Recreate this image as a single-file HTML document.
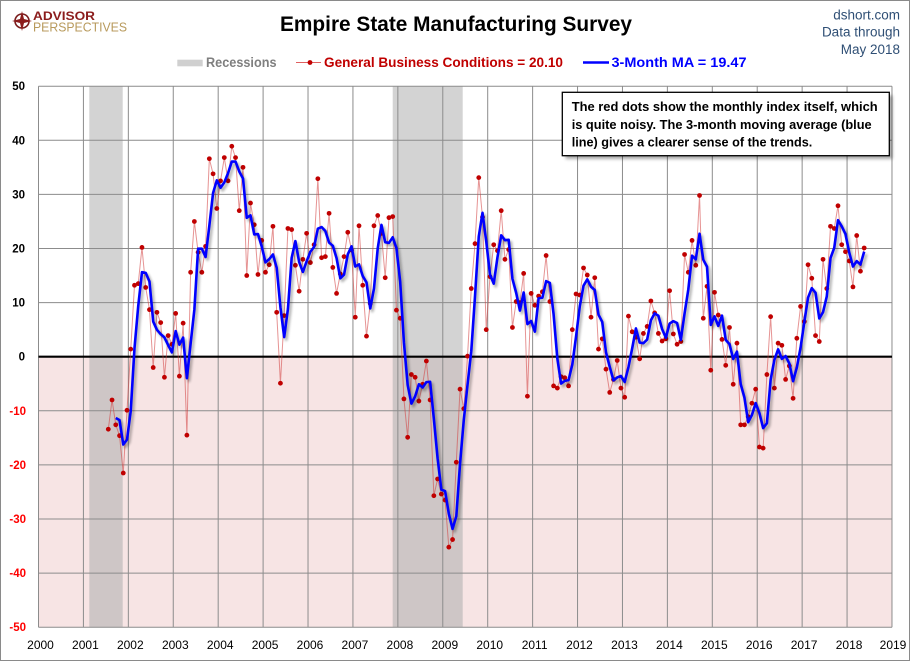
<!DOCTYPE html>
<html>
<head>
<meta charset="utf-8">
<style>
html,body{margin:0;padding:0;background:#fff;}
svg{display:block;}
text{font-family:"Liberation Sans",sans-serif;}
</style>
</head>
<body>
<svg width="910" height="661" viewBox="0 0 910 661" xmlns="http://www.w3.org/2000/svg">
<defs>
<filter id="blur" x="-5%" y="-5%" width="110%" height="110%"><feGaussianBlur stdDeviation="1.3"/></filter>
<filter id="boxsh" x="-10%" y="-20%" width="120%" height="150%"><feGaussianBlur stdDeviation="1.5"/></filter>
</defs>
<rect x="0" y="0" width="910" height="661" fill="#fff"/>
<rect x="0.5" y="0.5" width="909" height="660" fill="none" stroke="#8a8a8a" stroke-width="1"/>

<!-- Logo -->
<circle cx="22" cy="21" r="7" fill="none" stroke="#7a1c1c" stroke-width="1.6"/>
<polygon points="22,11 24,19 32,21 24,23 22,31 20,23 12,21 20,19" fill="#8b1c1c"/>
<text x="33" y="20" font-size="12" font-weight="bold" fill="#8b1c1c" textLength="62" lengthAdjust="spacingAndGlyphs">ADVISOR</text>
<text x="33" y="31.5" font-size="13" fill="#b89a5c" textLength="94" lengthAdjust="spacingAndGlyphs">PERSPECTIVES</text>

<!-- Title -->
<text x="280" y="31" font-size="21" font-weight="bold" fill="#000" textLength="352" lengthAdjust="spacingAndGlyphs">Empire State Manufacturing Survey</text>

<!-- Top right -->
<text x="900" y="19.3" font-size="13.5" fill="#2f4f75" text-anchor="end">dshort.com</text>
<text x="900" y="36.7" font-size="13.5" fill="#2f4f75" text-anchor="end">Data through</text>
<text x="900" y="54" font-size="13.5" fill="#2f4f75" text-anchor="end">May 2018</text>

<!-- Legend -->
<rect x="177.3" y="59.7" width="25.4" height="6.6" fill="#d0d0d0"/>
<text x="206" y="67" font-size="13.5" font-weight="bold" fill="#7f7f7f" textLength="70.5" lengthAdjust="spacingAndGlyphs">Recessions</text>
<line x1="296" y1="62.5" x2="321" y2="62.5" stroke="#e06060" stroke-width="1"/>
<circle cx="310" cy="62.5" r="2.4" fill="#c00000"/>
<text x="324" y="67" font-size="13.5" font-weight="bold" fill="#c00000" textLength="239" lengthAdjust="spacingAndGlyphs">General Business Conditions = 20.10</text>
<line x1="583" y1="62.5" x2="609" y2="62.5" stroke="#0000ff" stroke-width="2.5"/>
<text x="611.5" y="67" font-size="13.5" font-weight="bold" fill="#0000ff" textLength="135" lengthAdjust="spacingAndGlyphs">3-Month MA = 19.47</text>

<!-- Plot backgrounds -->
<rect x="38.5" y="356.7" width="853.5" height="270.5" fill="#f7e4e4"/>
<rect x="89.3" y="86.2" width="33.4" height="270.5" fill="#d3d3d3"/>
<rect x="89.3" y="356.7" width="33.4" height="270.5" fill="#cec6c6"/>
<rect x="392.7" y="86.2" width="70" height="270.5" fill="#d3d3d3"/>
<rect x="392.7" y="356.7" width="70" height="270.5" fill="#cec6c6"/>

<!-- Gridlines -->
<g stroke="#8c8c8c" stroke-width="1" fill="none">
<line x1="38.5" y1="86.2" x2="892" y2="86.2"/>
<line x1="38.5" y1="140.3" x2="892" y2="140.3"/>
<line x1="38.5" y1="194.4" x2="892" y2="194.4"/>
<line x1="38.5" y1="248.5" x2="892" y2="248.5"/>
<line x1="38.5" y1="302.6" x2="892" y2="302.6"/>
<line x1="38.5" y1="410.8" x2="892" y2="410.8"/>
<line x1="38.5" y1="464.9" x2="892" y2="464.9"/>
<line x1="38.5" y1="519" x2="892" y2="519"/>
<line x1="38.5" y1="573.1" x2="892" y2="573.1"/>
<line x1="38.5" y1="627.2" x2="892" y2="627.2"/>
<line x1="38.5" y1="86.2" x2="38.5" y2="627.2"/>
<line x1="83.42" y1="86.2" x2="83.42" y2="627.2"/>
<line x1="128.34" y1="86.2" x2="128.34" y2="627.2"/>
<line x1="173.26" y1="86.2" x2="173.26" y2="627.2"/>
<line x1="218.18" y1="86.2" x2="218.18" y2="627.2"/>
<line x1="263.1" y1="86.2" x2="263.1" y2="627.2"/>
<line x1="308.02" y1="86.2" x2="308.02" y2="627.2"/>
<line x1="352.94" y1="86.2" x2="352.94" y2="627.2"/>
<line x1="397.86" y1="86.2" x2="397.86" y2="627.2"/>
<line x1="442.78" y1="86.2" x2="442.78" y2="627.2"/>
<line x1="487.7" y1="86.2" x2="487.7" y2="627.2"/>
<line x1="532.62" y1="86.2" x2="532.62" y2="627.2"/>
<line x1="577.54" y1="86.2" x2="577.54" y2="627.2"/>
<line x1="622.46" y1="86.2" x2="622.46" y2="627.2"/>
<line x1="667.38" y1="86.2" x2="667.38" y2="627.2"/>
<line x1="712.3" y1="86.2" x2="712.3" y2="627.2"/>
<line x1="757.22" y1="86.2" x2="757.22" y2="627.2"/>
<line x1="802.14" y1="86.2" x2="802.14" y2="627.2"/>
<line x1="847.06" y1="86.2" x2="847.06" y2="627.2"/>
<line x1="891.98" y1="86.2" x2="891.98" y2="627.2"/>
</g>
<line x1="38.5" y1="356.7" x2="892" y2="356.7" stroke="#000" stroke-width="2.2"/>

<!-- Y labels -->
<g font-size="11.5" font-weight="bold" text-anchor="end">
<text x="25" y="90.2" fill="#000">50</text>
<text x="25" y="144.3" fill="#000">40</text>
<text x="25" y="198.4" fill="#000">30</text>
<text x="25" y="252.5" fill="#000">20</text>
<text x="25" y="306.6" fill="#000">10</text>
<text x="25" y="360.7" fill="#000">0</text>
<text x="26" y="414.8" fill="#ff0000">-10</text>
<text x="26" y="468.9" fill="#ff0000">-20</text>
<text x="26" y="523" fill="#ff0000">-30</text>
<text x="26" y="577.1" fill="#ff0000">-40</text>
<text x="26" y="631.2" fill="#ff0000">-50</text>
</g>

<!-- X labels -->
<g font-size="12" text-anchor="middle" fill="#000">
<text x="40.5" y="649">2000</text>
<text x="85.4" y="649">2001</text>
<text x="130.3" y="649">2002</text>
<text x="175.3" y="649">2003</text>
<text x="220.2" y="649">2004</text>
<text x="265.1" y="649">2005</text>
<text x="310" y="649">2006</text>
<text x="354.9" y="649">2007</text>
<text x="399.9" y="649">2008</text>
<text x="444.8" y="649">2009</text>
<text x="489.7" y="649">2010</text>
<text x="534.6" y="649">2011</text>
<text x="579.5" y="649">2012</text>
<text x="624.5" y="649">2013</text>
<text x="669.4" y="649">2014</text>
<text x="714.3" y="649">2015</text>
<text x="759.2" y="649">2016</text>
<text x="804.1" y="649">2017</text>
<text x="849.1" y="649">2018</text>
<text x="893" y="649">2019</text>
</g>

<!-- Red series line -->
<g transform="translate(108.3,356.7) scale(3.742,-5.41)">
<polyline fill="none" stroke="#d23c3c" stroke-opacity="0.55" stroke-width="1" vector-effect="non-scaling-stroke" stroke-linejoin="round" points="0,-13.4 1,-8 2,-12.6 3,-14.6 4,-21.5 5,-9.9 6,1.4 7,13.2 8,13.5 9,20.2 10,12.8 11,8.7 12,-2 13,8.2 14,6.3 15,-3.8 16,3.9 17,2.3 18,8 19,-3.6 20,6.2 21,-14.5 22,15.6 23,25 24,19.3 25,15.6 26,20.4 27,36.6 28,33.8 29,27.4 30,32.5 31,36.8 32,32.5 33,38.9 34,36.8 35,27 36,35 37,15 38,28.4 39,24.4 40,15.2 41,21.5 42,15.6 43,17 44,24.1 45,8.2 46,-4.9 47,7.6 48,23.7 49,23.5 50,16.9 51,12.1 52,18 53,22.8 54,17.4 55,20.7 56,32.9 57,18.3 58,18.5 59,26.5 60,16.5 61,11.7 62,15.3 63,18.5 64,23 65,19.7 66,7.3 67,24.2 68,13.2 69,3.8 70,9.8 71,24.2 72,26.1 73,22.8 74,14.6 75,25.7 76,25.9 77,8.6 78,7.1 79,-7.8 80,-14.9 81,-3.3 82,-3.8 83,-8.2 84,-5.1 85,-0.8 86,-8 87,-25.7 88,-22.6 89,-25.4 90,-26.5 91,-35.2 92,-33.8 93,-19.5 94,-6 95,-9.6 96,0.1 97,12.6 98,20.9 99,33.1 100,25.8 101,5 102,14.8 103,20.7 104,19.6 105,27 106,18 107,19.8 108,5.4 109,10.2 110,10 111,15.4 112,-7.3 113,11.7 114,9.5 115,11.2 116,12 117,18.7 118,10.2 119,-5.4 120,-5.8 121,-3.7 122,-3.9 123,-5.4 124,5 125,11.6 126,11.4 127,16.4 128,15.1 129,7.3 130,14.6 131,1.4 132,3.3 133,-2.3 134,-6.6 135,-4.2 136,-0.7 137,-5.8 138,-7.5 139,7.5 140,4.6 141,3.6 142,-0.4 143,4.3 144,5.6 145,10.3 146,8.1 147,4.3 148,2.9 149,3.3 150,12.2 151,4.2 152,2.3 153,2.8 154,18.9 155,15.6 156,21.5 157,16.9 158,29.8 159,7.1 160,13 161,-2.5 162,11.9 163,7.7 164,3.2 165,-1.6 166,5.4 167,-5.1 168,2.5 169,-12.6 170,-12.6 171,-11.1 172,-8.6 173,-6 174,-16.7 175,-16.9 176,-3.3 177,7.4 178,-5.8 179,2.5 180,2.1 181,-4.2 182,-1.7 183,-7.7 184,3.4 185,9.3 186,6.5 187,17 188,14.5 189,3.9 190,2.8 191,18 192,12.6 193,24.1 194,23.7 195,27.9 196,20.7 197,19.4 198,17.7 199,12.9 200,22.4 201,15.8 202,20.1"/>
</g>

<!-- Red dots -->
<g transform="translate(108.3,356.7) scale(3.742,-5.41)" fill="#c00000">
<ellipse cx="0" cy="-13.4" rx=".64" ry=".44"/><ellipse cx="1" cy="-8" rx=".64" ry=".44"/><ellipse cx="2" cy="-12.6" rx=".64" ry=".44"/><ellipse cx="3" cy="-14.6" rx=".64" ry=".44"/><ellipse cx="4" cy="-21.5" rx=".64" ry=".44"/><ellipse cx="5" cy="-9.9" rx=".64" ry=".44"/><ellipse cx="6" cy="1.4" rx=".64" ry=".44"/><ellipse cx="7" cy="13.2" rx=".64" ry=".44"/><ellipse cx="8" cy="13.5" rx=".64" ry=".44"/><ellipse cx="9" cy="20.2" rx=".64" ry=".44"/>
<ellipse cx="10" cy="12.8" rx=".64" ry=".44"/><ellipse cx="11" cy="8.7" rx=".64" ry=".44"/><ellipse cx="12" cy="-2" rx=".64" ry=".44"/><ellipse cx="13" cy="8.2" rx=".64" ry=".44"/><ellipse cx="14" cy="6.3" rx=".64" ry=".44"/><ellipse cx="15" cy="-3.8" rx=".64" ry=".44"/><ellipse cx="16" cy="3.9" rx=".64" ry=".44"/><ellipse cx="17" cy="2.3" rx=".64" ry=".44"/><ellipse cx="18" cy="8" rx=".64" ry=".44"/><ellipse cx="19" cy="-3.6" rx=".64" ry=".44"/>
<ellipse cx="20" cy="6.2" rx=".64" ry=".44"/><ellipse cx="21" cy="-14.5" rx=".64" ry=".44"/><ellipse cx="22" cy="15.6" rx=".64" ry=".44"/><ellipse cx="23" cy="25" rx=".64" ry=".44"/><ellipse cx="24" cy="19.3" rx=".64" ry=".44"/><ellipse cx="25" cy="15.6" rx=".64" ry=".44"/><ellipse cx="26" cy="20.4" rx=".64" ry=".44"/><ellipse cx="27" cy="36.6" rx=".64" ry=".44"/><ellipse cx="28" cy="33.8" rx=".64" ry=".44"/><ellipse cx="29" cy="27.4" rx=".64" ry=".44"/>
<ellipse cx="30" cy="32.5" rx=".64" ry=".44"/><ellipse cx="31" cy="36.8" rx=".64" ry=".44"/><ellipse cx="32" cy="32.5" rx=".64" ry=".44"/><ellipse cx="33" cy="38.9" rx=".64" ry=".44"/><ellipse cx="34" cy="36.8" rx=".64" ry=".44"/><ellipse cx="35" cy="27" rx=".64" ry=".44"/><ellipse cx="36" cy="35" rx=".64" ry=".44"/><ellipse cx="37" cy="15" rx=".64" ry=".44"/><ellipse cx="38" cy="28.4" rx=".64" ry=".44"/><ellipse cx="39" cy="24.4" rx=".64" ry=".44"/>
<ellipse cx="40" cy="15.2" rx=".64" ry=".44"/><ellipse cx="41" cy="21.5" rx=".64" ry=".44"/><ellipse cx="42" cy="15.6" rx=".64" ry=".44"/><ellipse cx="43" cy="17" rx=".64" ry=".44"/><ellipse cx="44" cy="24.1" rx=".64" ry=".44"/><ellipse cx="45" cy="8.2" rx=".64" ry=".44"/><ellipse cx="46" cy="-4.9" rx=".64" ry=".44"/><ellipse cx="47" cy="7.6" rx=".64" ry=".44"/><ellipse cx="48" cy="23.7" rx=".64" ry=".44"/><ellipse cx="49" cy="23.5" rx=".64" ry=".44"/>
<ellipse cx="50" cy="16.9" rx=".64" ry=".44"/><ellipse cx="51" cy="12.1" rx=".64" ry=".44"/><ellipse cx="52" cy="18" rx=".64" ry=".44"/><ellipse cx="53" cy="22.8" rx=".64" ry=".44"/><ellipse cx="54" cy="17.4" rx=".64" ry=".44"/><ellipse cx="55" cy="20.7" rx=".64" ry=".44"/><ellipse cx="56" cy="32.9" rx=".64" ry=".44"/><ellipse cx="57" cy="18.3" rx=".64" ry=".44"/><ellipse cx="58" cy="18.5" rx=".64" ry=".44"/><ellipse cx="59" cy="26.5" rx=".64" ry=".44"/>
<ellipse cx="60" cy="16.5" rx=".64" ry=".44"/><ellipse cx="61" cy="11.7" rx=".64" ry=".44"/><ellipse cx="62" cy="15.3" rx=".64" ry=".44"/><ellipse cx="63" cy="18.5" rx=".64" ry=".44"/><ellipse cx="64" cy="23" rx=".64" ry=".44"/><ellipse cx="65" cy="19.7" rx=".64" ry=".44"/><ellipse cx="66" cy="7.3" rx=".64" ry=".44"/><ellipse cx="67" cy="24.2" rx=".64" ry=".44"/><ellipse cx="68" cy="13.2" rx=".64" ry=".44"/><ellipse cx="69" cy="3.8" rx=".64" ry=".44"/>
<ellipse cx="70" cy="9.8" rx=".64" ry=".44"/><ellipse cx="71" cy="24.2" rx=".64" ry=".44"/><ellipse cx="72" cy="26.1" rx=".64" ry=".44"/><ellipse cx="73" cy="22.8" rx=".64" ry=".44"/><ellipse cx="74" cy="14.6" rx=".64" ry=".44"/><ellipse cx="75" cy="25.7" rx=".64" ry=".44"/><ellipse cx="76" cy="25.9" rx=".64" ry=".44"/><ellipse cx="77" cy="8.6" rx=".64" ry=".44"/><ellipse cx="78" cy="7.1" rx=".64" ry=".44"/><ellipse cx="79" cy="-7.8" rx=".64" ry=".44"/>
<ellipse cx="80" cy="-14.9" rx=".64" ry=".44"/><ellipse cx="81" cy="-3.3" rx=".64" ry=".44"/><ellipse cx="82" cy="-3.8" rx=".64" ry=".44"/><ellipse cx="83" cy="-8.2" rx=".64" ry=".44"/><ellipse cx="84" cy="-5.1" rx=".64" ry=".44"/><ellipse cx="85" cy="-0.8" rx=".64" ry=".44"/><ellipse cx="86" cy="-8" rx=".64" ry=".44"/><ellipse cx="87" cy="-25.7" rx=".64" ry=".44"/><ellipse cx="88" cy="-22.6" rx=".64" ry=".44"/><ellipse cx="89" cy="-25.4" rx=".64" ry=".44"/>
<ellipse cx="90" cy="-26.5" rx=".64" ry=".44"/><ellipse cx="91" cy="-35.2" rx=".64" ry=".44"/><ellipse cx="92" cy="-33.8" rx=".64" ry=".44"/><ellipse cx="93" cy="-19.5" rx=".64" ry=".44"/><ellipse cx="94" cy="-6" rx=".64" ry=".44"/><ellipse cx="95" cy="-9.6" rx=".64" ry=".44"/><ellipse cx="96" cy="0.1" rx=".64" ry=".44"/><ellipse cx="97" cy="12.6" rx=".64" ry=".44"/><ellipse cx="98" cy="20.9" rx=".64" ry=".44"/><ellipse cx="99" cy="33.1" rx=".64" ry=".44"/>
<ellipse cx="100" cy="25.8" rx=".64" ry=".44"/><ellipse cx="101" cy="5" rx=".64" ry=".44"/><ellipse cx="102" cy="14.8" rx=".64" ry=".44"/><ellipse cx="103" cy="20.7" rx=".64" ry=".44"/><ellipse cx="104" cy="19.6" rx=".64" ry=".44"/><ellipse cx="105" cy="27" rx=".64" ry=".44"/><ellipse cx="106" cy="18" rx=".64" ry=".44"/><ellipse cx="107" cy="19.8" rx=".64" ry=".44"/><ellipse cx="108" cy="5.4" rx=".64" ry=".44"/><ellipse cx="109" cy="10.2" rx=".64" ry=".44"/>
<ellipse cx="110" cy="10" rx=".64" ry=".44"/><ellipse cx="111" cy="15.4" rx=".64" ry=".44"/><ellipse cx="112" cy="-7.3" rx=".64" ry=".44"/><ellipse cx="113" cy="11.7" rx=".64" ry=".44"/><ellipse cx="114" cy="9.5" rx=".64" ry=".44"/><ellipse cx="115" cy="11.2" rx=".64" ry=".44"/><ellipse cx="116" cy="12" rx=".64" ry=".44"/><ellipse cx="117" cy="18.7" rx=".64" ry=".44"/><ellipse cx="118" cy="10.2" rx=".64" ry=".44"/><ellipse cx="119" cy="-5.4" rx=".64" ry=".44"/>
<ellipse cx="120" cy="-5.8" rx=".64" ry=".44"/><ellipse cx="121" cy="-3.7" rx=".64" ry=".44"/><ellipse cx="122" cy="-3.9" rx=".64" ry=".44"/><ellipse cx="123" cy="-5.4" rx=".64" ry=".44"/><ellipse cx="124" cy="5" rx=".64" ry=".44"/><ellipse cx="125" cy="11.6" rx=".64" ry=".44"/><ellipse cx="126" cy="11.4" rx=".64" ry=".44"/><ellipse cx="127" cy="16.4" rx=".64" ry=".44"/><ellipse cx="128" cy="15.1" rx=".64" ry=".44"/><ellipse cx="129" cy="7.3" rx=".64" ry=".44"/>
<ellipse cx="130" cy="14.6" rx=".64" ry=".44"/><ellipse cx="131" cy="1.4" rx=".64" ry=".44"/><ellipse cx="132" cy="3.3" rx=".64" ry=".44"/><ellipse cx="133" cy="-2.3" rx=".64" ry=".44"/><ellipse cx="134" cy="-6.6" rx=".64" ry=".44"/><ellipse cx="135" cy="-4.2" rx=".64" ry=".44"/><ellipse cx="136" cy="-0.7" rx=".64" ry=".44"/><ellipse cx="137" cy="-5.8" rx=".64" ry=".44"/><ellipse cx="138" cy="-7.5" rx=".64" ry=".44"/><ellipse cx="139" cy="7.5" rx=".64" ry=".44"/>
<ellipse cx="140" cy="4.6" rx=".64" ry=".44"/><ellipse cx="141" cy="3.6" rx=".64" ry=".44"/><ellipse cx="142" cy="-0.4" rx=".64" ry=".44"/><ellipse cx="143" cy="4.3" rx=".64" ry=".44"/><ellipse cx="144" cy="5.6" rx=".64" ry=".44"/><ellipse cx="145" cy="10.3" rx=".64" ry=".44"/><ellipse cx="146" cy="8.1" rx=".64" ry=".44"/><ellipse cx="147" cy="4.3" rx=".64" ry=".44"/><ellipse cx="148" cy="2.9" rx=".64" ry=".44"/><ellipse cx="149" cy="3.3" rx=".64" ry=".44"/>
<ellipse cx="150" cy="12.2" rx=".64" ry=".44"/><ellipse cx="151" cy="4.2" rx=".64" ry=".44"/><ellipse cx="152" cy="2.3" rx=".64" ry=".44"/><ellipse cx="153" cy="2.8" rx=".64" ry=".44"/><ellipse cx="154" cy="18.9" rx=".64" ry=".44"/><ellipse cx="155" cy="15.6" rx=".64" ry=".44"/><ellipse cx="156" cy="21.5" rx=".64" ry=".44"/><ellipse cx="157" cy="16.9" rx=".64" ry=".44"/><ellipse cx="158" cy="29.8" rx=".64" ry=".44"/><ellipse cx="159" cy="7.1" rx=".64" ry=".44"/>
<ellipse cx="160" cy="13" rx=".64" ry=".44"/><ellipse cx="161" cy="-2.5" rx=".64" ry=".44"/><ellipse cx="162" cy="11.9" rx=".64" ry=".44"/><ellipse cx="163" cy="7.7" rx=".64" ry=".44"/><ellipse cx="164" cy="3.2" rx=".64" ry=".44"/><ellipse cx="165" cy="-1.6" rx=".64" ry=".44"/><ellipse cx="166" cy="5.4" rx=".64" ry=".44"/><ellipse cx="167" cy="-5.1" rx=".64" ry=".44"/><ellipse cx="168" cy="2.5" rx=".64" ry=".44"/><ellipse cx="169" cy="-12.6" rx=".64" ry=".44"/>
<ellipse cx="170" cy="-12.6" rx=".64" ry=".44"/><ellipse cx="171" cy="-11.1" rx=".64" ry=".44"/><ellipse cx="172" cy="-8.6" rx=".64" ry=".44"/><ellipse cx="173" cy="-6" rx=".64" ry=".44"/><ellipse cx="174" cy="-16.7" rx=".64" ry=".44"/><ellipse cx="175" cy="-16.9" rx=".64" ry=".44"/><ellipse cx="176" cy="-3.3" rx=".64" ry=".44"/><ellipse cx="177" cy="7.4" rx=".64" ry=".44"/><ellipse cx="178" cy="-5.8" rx=".64" ry=".44"/><ellipse cx="179" cy="2.5" rx=".64" ry=".44"/>
<ellipse cx="180" cy="2.1" rx=".64" ry=".44"/><ellipse cx="181" cy="-4.2" rx=".64" ry=".44"/><ellipse cx="182" cy="-1.7" rx=".64" ry=".44"/><ellipse cx="183" cy="-7.7" rx=".64" ry=".44"/><ellipse cx="184" cy="3.4" rx=".64" ry=".44"/><ellipse cx="185" cy="9.3" rx=".64" ry=".44"/><ellipse cx="186" cy="6.5" rx=".64" ry=".44"/><ellipse cx="187" cy="17" rx=".64" ry=".44"/><ellipse cx="188" cy="14.5" rx=".64" ry=".44"/><ellipse cx="189" cy="3.9" rx=".64" ry=".44"/>
<ellipse cx="190" cy="2.8" rx=".64" ry=".44"/><ellipse cx="191" cy="18" rx=".64" ry=".44"/><ellipse cx="192" cy="12.6" rx=".64" ry=".44"/><ellipse cx="193" cy="24.1" rx=".64" ry=".44"/><ellipse cx="194" cy="23.7" rx=".64" ry=".44"/><ellipse cx="195" cy="27.9" rx=".64" ry=".44"/><ellipse cx="196" cy="20.7" rx=".64" ry=".44"/><ellipse cx="197" cy="19.4" rx=".64" ry=".44"/><ellipse cx="198" cy="17.7" rx=".64" ry=".44"/><ellipse cx="199" cy="12.9" rx=".64" ry=".44"/>
<ellipse cx="200" cy="22.4" rx=".64" ry=".44"/><ellipse cx="201" cy="15.8" rx=".64" ry=".44"/><ellipse cx="202" cy="20.1" rx=".64" ry=".44"/>
</g>

<!-- Blue MA shadow -->
<g transform="translate(2,2.5)" filter="url(#blur)" opacity="0.3">
<g transform="translate(108.3,356.7) scale(3.742,-5.41)">
<polyline fill="none" stroke="#000" stroke-width="3" vector-effect="non-scaling-stroke" stroke-linejoin="round" points="2,-11.33 3,-11.73 4,-16.23 5,-15.33 6,-10 7,1.57 8,9.37 9,15.63 10,15.5 11,13.9 12,6.5 13,4.97 14,4.17 15,3.57 16,2.13 17,0.8 18,4.73 19,2.23 20,3.53 21,-3.97 22,2.43 23,8.7 24,19.97 25,19.97 26,18.43 27,24.2 28,30.27 29,32.6 30,31.23 31,32.23 32,33.93 33,36.07 34,36.07 35,34.23 36,32.93 37,25.67 38,26.13 39,22.6 40,22.67 41,20.37 42,17.43 43,18.03 44,18.9 45,16.43 46,9.13 47,3.63 48,8.8 49,18.27 50,21.37 51,17.5 52,15.67 53,17.63 54,19.4 55,20.3 56,23.67 57,23.97 58,23.23 59,21.1 60,20.5 61,18.23 62,14.5 63,15.17 64,18.93 65,20.4 66,16.67 67,17.07 68,14.9 69,13.73 70,8.93 71,12.6 72,20.03 73,24.37 74,21.17 75,21.03 76,22.07 77,20.07 78,13.87 79,2.63 80,-5.2 81,-8.67 82,-7.33 83,-5.1 84,-5.7 85,-4.7 86,-4.63 87,-11.5 88,-18.77 89,-24.57 90,-24.83 91,-29.03 92,-31.83 93,-29.5 94,-19.77 95,-11.7 96,-5.17 97,1.03 98,11.2 99,22.2 100,26.6 101,21.3 102,15.2 103,13.5 104,18.37 105,22.43 106,21.53 107,21.6 108,14.4 109,11.8 110,8.53 111,11.87 112,6.03 113,6.6 114,4.63 115,10.8 116,10.9 117,13.97 118,13.63 119,7.83 120,-0.33 121,-4.97 122,-4.47 123,-4.33 124,-1.43 125,3.73 126,9.33 127,13.13 128,14.3 129,12.93 130,12.33 131,7.77 132,6.43 133,0.8 134,-1.87 135,-4.37 136,-3.83 137,-3.57 138,-4.67 139,-1.93 140,1.53 141,5.23 142,2.6 143,2.5 144,3.17 145,6.73 146,8 147,7.57 148,5.1 149,3.5 150,6.13 151,6.57 152,6.23 153,3.1 154,8 155,12.43 156,18.67 157,18 158,22.73 159,17.93 160,16.63 161,5.87 162,7.47 163,5.7 164,7.6 165,3.1 166,2.33 167,-0.43 168,0.93 169,-5.07 170,-7.57 171,-12.1 172,-10.77 173,-8.57 174,-10.43 175,-13.2 176,-12.3 177,-4.27 178,-0.57 179,1.37 180,-0.4 181,0.13 182,-1.27 183,-4.53 184,-2 185,1.67 186,6.4 187,10.93 188,12.67 189,11.8 190,7.07 191,8.23 192,11.13 193,18.23 194,20.13 195,25.23 196,24.1 197,22.67 198,19.27 199,16.67 200,17.67 201,17.03 202,19.43"/>
</g>
</g>

<!-- Blue MA line -->
<g transform="translate(108.3,356.7) scale(3.742,-5.41)">
<polyline fill="none" stroke="#0000ff" stroke-width="2.6" vector-effect="non-scaling-stroke" stroke-linejoin="round" points="2,-11.33 3,-11.73 4,-16.23 5,-15.33 6,-10 7,1.57 8,9.37 9,15.63 10,15.5 11,13.9 12,6.5 13,4.97 14,4.17 15,3.57 16,2.13 17,0.8 18,4.73 19,2.23 20,3.53 21,-3.97 22,2.43 23,8.7 24,19.97 25,19.97 26,18.43 27,24.2 28,30.27 29,32.6 30,31.23 31,32.23 32,33.93 33,36.07 34,36.07 35,34.23 36,32.93 37,25.67 38,26.13 39,22.6 40,22.67 41,20.37 42,17.43 43,18.03 44,18.9 45,16.43 46,9.13 47,3.63 48,8.8 49,18.27 50,21.37 51,17.5 52,15.67 53,17.63 54,19.4 55,20.3 56,23.67 57,23.97 58,23.23 59,21.1 60,20.5 61,18.23 62,14.5 63,15.17 64,18.93 65,20.4 66,16.67 67,17.07 68,14.9 69,13.73 70,8.93 71,12.6 72,20.03 73,24.37 74,21.17 75,21.03 76,22.07 77,20.07 78,13.87 79,2.63 80,-5.2 81,-8.67 82,-7.33 83,-5.1 84,-5.7 85,-4.7 86,-4.63 87,-11.5 88,-18.77 89,-24.57 90,-24.83 91,-29.03 92,-31.83 93,-29.5 94,-19.77 95,-11.7 96,-5.17 97,1.03 98,11.2 99,22.2 100,26.6 101,21.3 102,15.2 103,13.5 104,18.37 105,22.43 106,21.53 107,21.6 108,14.4 109,11.8 110,8.53 111,11.87 112,6.03 113,6.6 114,4.63 115,10.8 116,10.9 117,13.97 118,13.63 119,7.83 120,-0.33 121,-4.97 122,-4.47 123,-4.33 124,-1.43 125,3.73 126,9.33 127,13.13 128,14.3 129,12.93 130,12.33 131,7.77 132,6.43 133,0.8 134,-1.87 135,-4.37 136,-3.83 137,-3.57 138,-4.67 139,-1.93 140,1.53 141,5.23 142,2.6 143,2.5 144,3.17 145,6.73 146,8 147,7.57 148,5.1 149,3.5 150,6.13 151,6.57 152,6.23 153,3.1 154,8 155,12.43 156,18.67 157,18 158,22.73 159,17.93 160,16.63 161,5.87 162,7.47 163,5.7 164,7.6 165,3.1 166,2.33 167,-0.43 168,0.93 169,-5.07 170,-7.57 171,-12.1 172,-10.77 173,-8.57 174,-10.43 175,-13.2 176,-12.3 177,-4.27 178,-0.57 179,1.37 180,-0.4 181,0.13 182,-1.27 183,-4.53 184,-2 185,1.67 186,6.4 187,10.93 188,12.67 189,11.8 190,7.07 191,8.23 192,11.13 193,18.23 194,20.13 195,25.23 196,24.1 197,22.67 198,19.27 199,16.67 200,17.67 201,17.03 202,19.43"/>
</g>

<!-- Annotation box -->
<rect x="565.5" y="95.5" width="327" height="63.4" fill="#000" opacity="0.35" filter="url(#boxsh)"/>
<rect x="562.3" y="92.3" width="327" height="63.4" fill="#fff" stroke="#000" stroke-width="1.3"/>
<g font-size="13" font-weight="bold" fill="#000">
<text x="571.7" y="111" textLength="306" lengthAdjust="spacingAndGlyphs">The red dots show the monthly  index itself, which</text>
<text x="571.7" y="129" textLength="300" lengthAdjust="spacingAndGlyphs">is quite noisy. The 3-month moving average (blue</text>
<text x="571.7" y="146.7" textLength="240.6" lengthAdjust="spacingAndGlyphs">line) gives a clearer sense of the trends.</text>
</g>
</svg>
</body>
</html>
